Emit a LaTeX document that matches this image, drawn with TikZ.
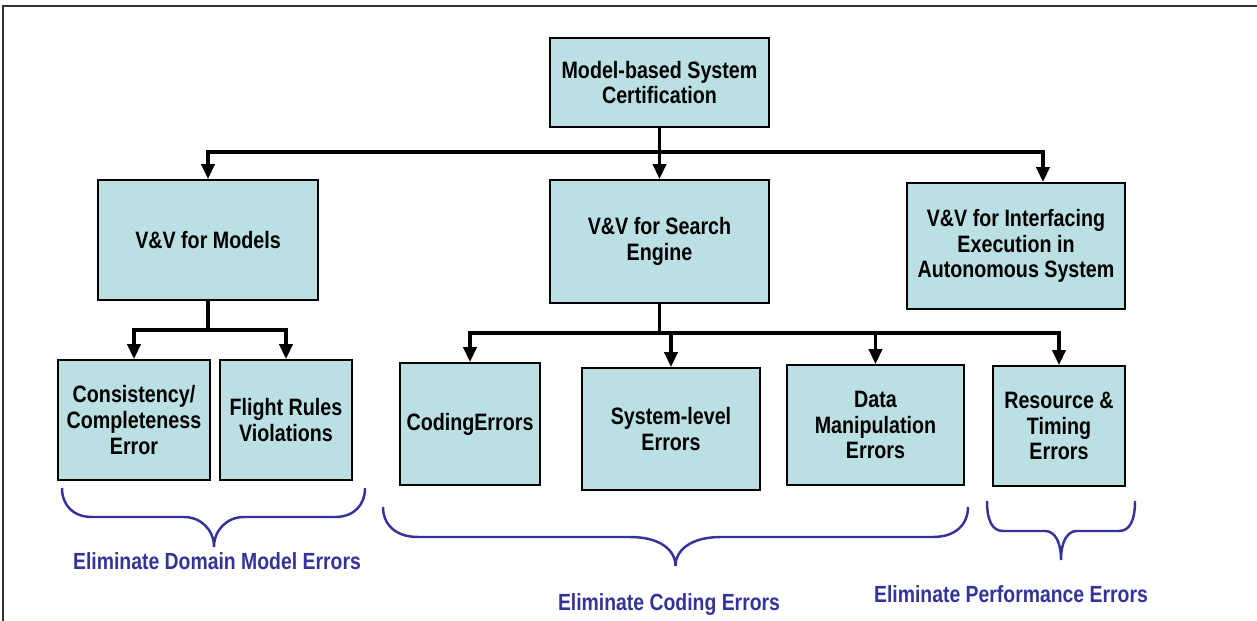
\documentclass[tikz,border=0pt]{standalone}
\usepackage{fontspec}
\setmainfont[FakeStretch=0.83]{Liberation Sans}
\usetikzlibrary{arrows.meta}
\definecolor{boxfill}{RGB}{187,224,227}
\definecolor{bracecol}{RGB}{51,51,153}
\tikzset{
  box/.style={draw, line width=1.1pt, fill=boxfill, align=center, inner sep=2pt,
    font=\bfseries\fontsize{13.5}{14.7}\selectfont},
  link/.style={line width=1.8pt, -{Triangle[width=7.5pt,length=8.5pt]}},
  brace/.style={draw=bracecol, line width=1.4pt},
  bracelabel/.style={text=bracecol, font=\bfseries\fontsize{13.3}{15}\selectfont}
}

\begin{document}
\begin{tikzpicture}[x=0.02cm, y=-0.02cm]
   \useasboundingbox (0,0) rectangle (1257,621);

   % frame lines
   \draw[line width=1.1pt, black!80] (3,621) -- (3,6) -- (1257,6);

   % boxes
   \node[box, minimum width=4.38cm, minimum height=1.78cm] (cert) at (659.5,82.5) {Model-based System\\Certification};
   \node[box, minimum width=4.4cm, minimum height=2.4cm] (models) at (208,240) {V\&V for Models};
   \node[box, minimum width=4.38cm, minimum height=2.46cm] (search) at (659.5,241.5) {V\&V for Search\\Engine};
   \node[box, minimum width=4.36cm, minimum height=2.52cm] (iface) at (1016,246) {V\&V for Interfacing\\Execution in\\Autonomous System};

   \node[box, minimum width=3.04cm, minimum height=2.4cm] (consist) at (134,420) {Consistency/\\Completeness\\Error};
   \node[box, minimum width=2.64cm, minimum height=2.4cm] (flight) at (286,420) {Flight Rules\\Violations};
   \node[box, minimum width=2.8cm, minimum height=2.44cm] (coding) at (470,424) {CodingErrors};
   \node[box, minimum width=3.56cm, minimum height=2.44cm] (syslevel) at (671,429) {System-level\\Errors};
   \node[box, minimum width=3.54cm, minimum height=2.4cm] (datamanip) at (875.5,425) {Data\\Manipulation\\Errors};
   \node[box, minimum width=2.64cm, minimum height=2.4cm] (resource) at (1059,426) {Resource \&\\Timing\\Errors};

   % connectors
   \coordinate (split1) at (659.5,152);
   \draw[link] (cert.south) -- (split1) -| (models.north);
   \draw[link] (split1) -- (search.north);
   \draw[link] (split1) -| ([xshift=0.54cm]iface.north);

   \coordinate (split2) at (208,330);
   \draw[link] (models.south) -- (split2) -| (consist.north);
   \draw[link] (split2) -| (flight.north);

   \coordinate (split3) at (659.5,333);
   \draw[link] (search.south) -- (split3) -| (coding.north);
   \draw[link] (split3) -| (syslevel.north);
   \draw[link] (split3) -| (datamanip.north);
   \draw[link] (split3) -| (resource.north);

   % braces
   \draw[brace] (62,488) .. controls (62,505) and (73,517) .. (92,517) -- (184,517)
      .. controls (201,517) and (214,530) .. (214,547)
      .. controls (214,530) and (227,517) .. (244,517) -- (335,517)
      .. controls (354,517) and (365,505) .. (365,488);
   \draw[brace] (383,507) .. controls (383,524) and (395,537) .. (418,537) -- (630,537)
      .. controls (660,537) and (675.5,550) .. (675.5,566)
      .. controls (675.5,550) and (691,537) .. (721,537) -- (933,537)
      .. controls (956,537) and (968,524) .. (968,507);
   \draw[brace] (987,501) .. controls (987,520) and (992,531) .. (1003,531) -- (1045,531)
      .. controls (1055,531) and (1061,542) .. (1061,560)
      .. controls (1061,542) and (1067,531) .. (1077,531) -- (1119,531)
      .. controls (1130,531) and (1135,520) .. (1135,501);

   % brace labels
   \node[bracelabel] (domainlbl) at (217,561) {Eliminate Domain Model Errors};
   \node[bracelabel] (codinglbl) at (669,605) {Eliminate Coding Errors};
   \node[bracelabel] (perflbl) at (1011,594) {Eliminate Performance Errors};

\end{tikzpicture}
\end{document}
